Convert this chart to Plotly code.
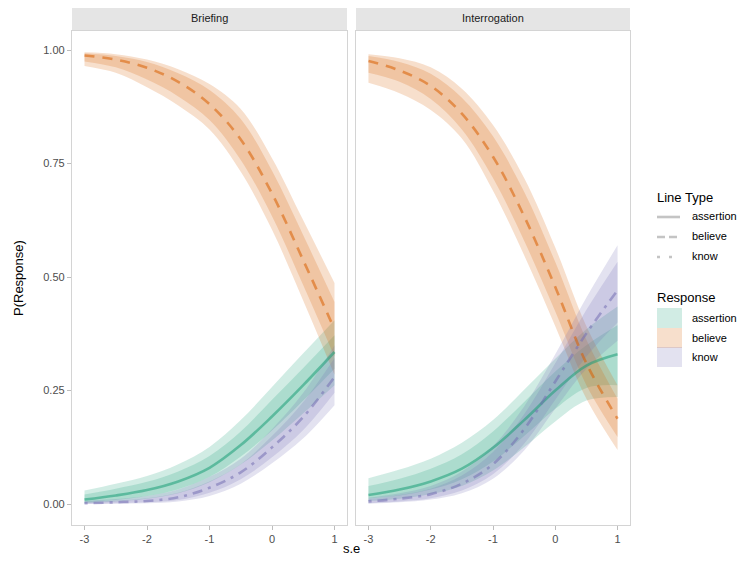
import plotly.graph_objects as go

# ---------------- data ----------------
se = [-3, -2.5, -2, -1.5, -1, -0.5, 0, 0.5, 1]
panels = ["Briefing", "Interrogation"]
responses = ["assertion", "believe", "know"]

# Briefing
brief_assertion = [0.010, 0.019, 0.031, 0.050, 0.080, 0.130, 0.193, 0.262, 0.335]
brief_assertion_out_hi = [0.030, 0.045, 0.062, 0.088, 0.126, 0.185, 0.258, 0.332, 0.405]
brief_assertion_out_lo = [0.002, 0.006, 0.012, 0.024, 0.048, 0.087, 0.140, 0.200, 0.262]
brief_assertion_in_hi = [0.021, 0.034, 0.049, 0.072, 0.106, 0.160, 0.230, 0.300, 0.372]
brief_assertion_in_lo = [0.004, 0.009, 0.018, 0.033, 0.060, 0.105, 0.162, 0.228, 0.298]

brief_believe = [0.988, 0.979, 0.961, 0.930, 0.881, 0.803, 0.684, 0.537, 0.385]
brief_believe_out_hi = [0.995, 0.991, 0.979, 0.958, 0.925, 0.870, 0.762, 0.625, 0.487]
brief_believe_out_lo = [0.965, 0.950, 0.918, 0.878, 0.825, 0.732, 0.604, 0.448, 0.285]
brief_believe_in_hi = [0.993, 0.987, 0.974, 0.949, 0.912, 0.848, 0.734, 0.592, 0.445]
brief_believe_in_lo = [0.975, 0.962, 0.935, 0.898, 0.846, 0.758, 0.634, 0.482, 0.325]

brief_know = [0.002, 0.004, 0.007, 0.015, 0.036, 0.070, 0.125, 0.192, 0.280]
brief_know_out_hi = [0.007, 0.011, 0.018, 0.032, 0.060, 0.100, 0.165, 0.245, 0.350]
brief_know_out_lo = [0.000, 0.001, 0.002, 0.006, 0.018, 0.045, 0.090, 0.145, 0.218]
brief_know_in_hi = [0.005, 0.008, 0.013, 0.025, 0.050, 0.088, 0.150, 0.225, 0.322]
brief_know_in_lo = [0.001, 0.002, 0.004, 0.009, 0.025, 0.055, 0.103, 0.163, 0.245]

# Interrogation
inter_assertion = [0.020, 0.032, 0.050, 0.078, 0.124, 0.185, 0.250, 0.305, 0.330]
inter_assertion_out_hi = [0.057, 0.076, 0.100, 0.135, 0.185, 0.252, 0.320, 0.385, 0.435]
inter_assertion_out_lo = [0.007, 0.012, 0.022, 0.040, 0.074, 0.125, 0.182, 0.228, 0.236]
inter_assertion_in_hi = [0.040, 0.056, 0.078, 0.110, 0.160, 0.225, 0.292, 0.350, 0.394]
inter_assertion_in_lo = [0.012, 0.019, 0.032, 0.055, 0.094, 0.150, 0.210, 0.256, 0.262]

inter_believe = [0.976, 0.955, 0.921, 0.860, 0.765, 0.634, 0.478, 0.310, 0.188]
inter_believe_out_hi = [0.991, 0.982, 0.962, 0.915, 0.835, 0.718, 0.565, 0.392, 0.262]
inter_believe_out_lo = [0.928, 0.905, 0.868, 0.805, 0.690, 0.548, 0.392, 0.232, 0.119]
inter_believe_in_hi = [0.987, 0.974, 0.948, 0.895, 0.810, 0.688, 0.533, 0.362, 0.232]
inter_believe_in_lo = [0.950, 0.930, 0.892, 0.825, 0.718, 0.580, 0.424, 0.262, 0.148]

inter_know = [0.006, 0.012, 0.022, 0.045, 0.088, 0.165, 0.270, 0.376, 0.471]
inter_know_out_hi = [0.014, 0.024, 0.040, 0.072, 0.128, 0.215, 0.330, 0.455, 0.570]
inter_know_out_lo = [0.001, 0.004, 0.010, 0.024, 0.056, 0.118, 0.210, 0.298, 0.360]
inter_know_in_hi = [0.011, 0.020, 0.034, 0.063, 0.115, 0.198, 0.310, 0.428, 0.534]
inter_know_in_lo = [0.002, 0.006, 0.013, 0.030, 0.066, 0.133, 0.230, 0.325, 0.400]

y_ticks = [0.00, 0.25, 0.50, 0.75, 1.00]
y_tick_labels = ["0.00", "0.25", "0.50", "0.75", "1.00"]
x_ticks = [-3, -2, -1, 0, 1]
x_tick_labels = ["-3", "-2", "-1", "0", "1"]

# ---------------- styling ----------------
OFF = 8                      # page body margin
W, H = 745 - OFF, 563 - OFF
base_rgb = {"assertion": (27, 158, 119), "believe": (217, 95, 2), "know": (117, 112, 179)}
dash_of = {"assertion": "solid", "believe": "10px,8px", "know": "3px,6px,10px,6px"}
FONT = "Liberation Sans, Arial, Helvetica, sans-serif"

def rgba(rgb, a):
    return "rgba(%d,%d,%d,%s)" % (rgb[0], rgb[1], rgb[2], a)

data = {
    "Briefing": {
        "assertion": (brief_assertion, brief_assertion_out_lo, brief_assertion_out_hi, brief_assertion_in_lo, brief_assertion_in_hi),
        "believe": (brief_believe, brief_believe_out_lo, brief_believe_out_hi, brief_believe_in_lo, brief_believe_in_hi),
        "know": (brief_know, brief_know_out_lo, brief_know_out_hi, brief_know_in_lo, brief_know_in_hi),
    },
    "Interrogation": {
        "assertion": (inter_assertion, inter_assertion_out_lo, inter_assertion_out_hi, inter_assertion_in_lo, inter_assertion_in_hi),
        "believe": (inter_believe, inter_believe_out_lo, inter_believe_out_hi, inter_believe_in_lo, inter_believe_in_hi),
        "know": (inter_know, inter_know_out_lo, inter_know_out_hi, inter_know_in_lo, inter_know_in_hi),
    },
}

fig = go.Figure()
for i, p in enumerate(panels):
    xa = "x" if i == 0 else "x2"
    ya = "y" if i == 0 else "y2"
    for r in responses:
        line, olo, ohi, ilo, ihi = data[p][r]
        for lo, hi in ((olo, ohi), (ilo, ihi)):
            fig.add_trace(go.Scatter(x=se, y=lo, xaxis=xa, yaxis=ya, mode="lines",
                                     line=dict(width=0, shape="spline", color=rgba(base_rgb[r], 0)),
                                     showlegend=False, hoverinfo="skip"))
            fig.add_trace(go.Scatter(x=se, y=hi, xaxis=xa, yaxis=ya, mode="lines",
                                     line=dict(width=0, shape="spline", color=rgba(base_rgb[r], 0)),
                                     fill="tonexty", fillcolor=rgba(base_rgb[r], 0.2),
                                     showlegend=False, hoverinfo="skip"))
    for r in responses:
        line = data[p][r][0]
        fig.add_trace(go.Scatter(x=se, y=line, xaxis=xa, yaxis=ya, mode="lines",
                                 line=dict(width=2.6, shape="spline", color=rgba(base_rgb[r], 0.55),
                                           dash=dash_of[r]),
                                 showlegend=False, name=r))

# geometry (pixels in the 745x563 window)
p1 = (72, 347)
p2 = (356, 630)
top, bot = 31, 525
def px(v): return (v - OFF) / W
def py(v): return 1 - (v - OFF) / H

axis_common = dict(showgrid=False, zeroline=False, showline=True, mirror=True,
                   linecolor="#D4D4D4", linewidth=1.3, ticklen=4,
                   tickcolor="#BDBDBD", tickwidth=1,
                   tickfont=dict(family=FONT, size=11, color="#4D4D4D"))

fig.update_layout(
    width=W, height=H, margin=dict(l=0, r=0, t=0, b=0),
    paper_bgcolor="white", plot_bgcolor="white", showlegend=False,
    font=dict(family=FONT),
    xaxis=dict(domain=[px(p1[0]), px(p1[1])], range=[-3.2, 1.2], tickvals=x_ticks,
               ticktext=x_tick_labels, ticks="outside", anchor="y", **axis_common),
    xaxis2=dict(domain=[px(p2[0]), px(p2[1])], range=[-3.2, 1.2], tickvals=x_ticks,
                ticktext=x_tick_labels, ticks="outside", anchor="y2", **axis_common),
    yaxis=dict(domain=[py(bot), py(top)], range=[-0.046, 1.042], tickvals=y_ticks,
               ticktext=y_tick_labels, ticks="outside", anchor="x", **axis_common),
    yaxis2=dict(domain=[py(bot), py(top)], range=[-0.046, 1.042], tickvals=y_ticks,
                showticklabels=False, ticks="", anchor="x2", **axis_common),
)

shapes = []
annotations = []
# facet strips
for (x0, x1), name in zip((p1, p2), panels):
    shapes.append(dict(type="rect", xref="paper", yref="paper",
                       x0=px(x0), x1=px(x1), y0=py(30), y1=py(6),
                       fillcolor="#E5E5E5", line=dict(width=0), layer="below"))
    annotations.append(dict(text=name, xref="paper", yref="paper", x=px((x0 + x1) / 2), y=py(18),
                            showarrow=False, font=dict(family=FONT, size=11, color="#1A1A1A"),
                            xanchor="center", yanchor="middle"))

# axis titles
annotations.append(dict(text="s.e", xref="paper", yref="paper", x=px(351), y=py(548),
                        showarrow=False, font=dict(family=FONT, size=13, color="black"),
                        xanchor="center", yanchor="middle"))
annotations.append(dict(text="P(Response)", xref="paper", yref="paper", x=px(18), y=py(278),
                        showarrow=False, textangle=-90, font=dict(family=FONT, size=13, color="black"),
                        xanchor="center", yanchor="middle"))

# legend: Line Type
annotations.append(dict(text="Line Type", xref="paper", yref="paper", x=px(655), y=py(197),
                        showarrow=False, font=dict(family=FONT, size=13, color="black"),
                        xanchor="left", yanchor="middle"))
lt_y = [216, 236, 256]
key_dash = {"assertion": "solid", "believe": "8px,4px", "know": "3px,9px"}
for r, yy in zip(responses, lt_y):
    shapes.append(dict(type="line", xref="paper", yref="paper", x0=px(657), x1=px(680),
                       y0=py(yy + 1), y1=py(yy + 1),
                       line=dict(color="#C4C4C4", width=2.6, dash=key_dash[r])))
    annotations.append(dict(text=r, xref="paper", yref="paper", x=px(690), y=py(yy),
                            showarrow=False, font=dict(family=FONT, size=11, color="black"),
                            xanchor="left", yanchor="middle"))

# legend: Response
annotations.append(dict(text="Response", xref="paper", yref="paper", x=px(655), y=py(297),
                        showarrow=False, font=dict(family=FONT, size=13, color="black"),
                        xanchor="left", yanchor="middle"))
rs_y = [318, 338, 357]
for r, yy in zip(responses, rs_y):
    shapes.append(dict(type="rect", xref="paper", yref="paper", x0=px(657), x1=px(682),
                       y0=py(yy + 10), y1=py(yy - 10),
                       fillcolor=rgba(base_rgb[r], 0.2), line=dict(width=0)))
    annotations.append(dict(text=r, xref="paper", yref="paper", x=px(690), y=py(yy),
                            showarrow=False, font=dict(family=FONT, size=11, color="black"),
                            xanchor="left", yanchor="middle"))

fig.update_layout(shapes=shapes, annotations=annotations)
fig.write_html("out.html")
